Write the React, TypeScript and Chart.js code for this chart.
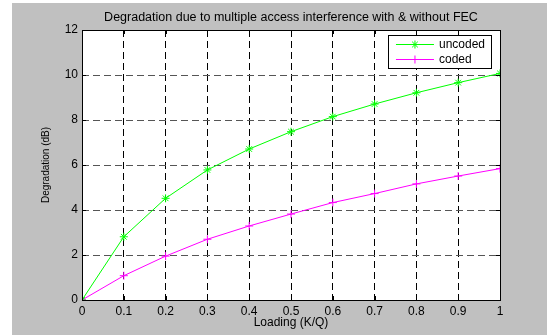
import React, { useEffect, useRef } from 'react';
import { Chart, registerables } from 'chart.js';

Chart.register(...registerables);

const loading = [0, 0.1, 0.2, 0.3, 0.4, 0.5, 0.6, 0.7, 0.8, 0.9, 1];
const uncoded = [0, 2.81, 4.52, 5.78, 6.71, 7.48, 8.15, 8.71, 9.21, 9.66, 10.07];
const coded = [0, 1.08, 1.95, 2.7, 3.29, 3.82, 4.33, 4.73, 5.16, 5.51, 5.84];
const seriesNames = ['uncoded', 'coded'];
const titleText = 'Degradation due to multiple access interference with & without FEC';
const xLabel = 'Loading (K/Q)';
const yLabel = 'Degradation (dB)';

const FONT = "'Liberation Sans', Arial, sans-serif";
const GREEN = '#00ff00';
const MAGENTA = '#ff00ff';
const GRAY = '#c0c0c0';

function drawMarker(ctx: CanvasRenderingContext2D, style: string, x: number, y: number, r: number, color: string) {
  ctx.save();
  ctx.strokeStyle = color;
  ctx.lineWidth = 1;
  ctx.beginPath();
  ctx.moveTo(x - r, y);
  ctx.lineTo(x + r, y);
  ctx.moveTo(x, y - r);
  ctx.lineTo(x, y + r);
  if (style === 'star') {
    const d = r * 0.707;
    ctx.moveTo(x - d, y - d);
    ctx.lineTo(x + d, y + d);
    ctx.moveTo(x - d, y + d);
    ctx.lineTo(x + d, y - d);
  }
  ctx.stroke();
  ctx.restore();
}

const matlabPlugin = {
  id: 'matlabLook',
  beforeDraw(chart: any) {
    const { ctx, chartArea, width, height } = chart;
    ctx.save();
    ctx.fillStyle = '#ffffff';
    ctx.fillRect(0, 0, width, height);
    ctx.fillStyle = GRAY;
    ctx.fillRect(12, 3, width - 12, height - 3);
    ctx.fillStyle = '#ffffff';
    ctx.fillRect(chartArea.left, chartArea.top, chartArea.right - chartArea.left, chartArea.bottom - chartArea.top);
    ctx.restore();
  },
  afterDatasetsDraw(chart: any) {
    const { ctx, chartArea, scales } = chart;
    const { left, right, top, bottom } = chartArea;
    ctx.save();
    ctx.strokeStyle = '#000';
    ctx.lineWidth = 1;
    // inward tick marks
    ctx.beginPath();
    scales.x.ticks.forEach((t: any) => {
      const px = Math.round(scales.x.getPixelForValue(t.value)) + 0.5;
      ctx.moveTo(px, bottom);
      ctx.lineTo(px, bottom - 4);
      ctx.moveTo(px, top);
      ctx.lineTo(px, top + 4);
    });
    scales.y.ticks.forEach((t: any) => {
      const py = Math.round(scales.y.getPixelForValue(t.value)) + 0.5;
      ctx.moveTo(left, py);
      ctx.lineTo(left + 4, py);
      ctx.moveTo(right, py);
      ctx.lineTo(right - 4, py);
    });
    ctx.stroke();
    ctx.strokeRect(Math.round(left) + 0.5, Math.round(top) + 0.5, Math.round(right - left), Math.round(bottom - top));
    ctx.restore();
  },
  afterDraw(chart: any) {
    const { ctx, chartArea } = chart;
    const ds = chart.data.datasets;
    ctx.save();
    ctx.font = `12px ${FONT}`;
    const textW = Math.max(...ds.map((d: any) => ctx.measureText(d.label).width));
    const boxR = chartArea.right - 9;
    const boxT = chartArea.top + 5;
    const boxW = 51 + textW + 6;
    const boxH = 33;
    const boxL = boxR - boxW;
    ctx.fillStyle = '#fff';
    ctx.fillRect(boxL, boxT, boxW, boxH);
    ctx.strokeStyle = '#000';
    ctx.lineWidth = 1;
    ctx.strokeRect(Math.round(boxL) + 0.5, Math.round(boxT) + 0.5, Math.round(boxW), Math.round(boxH));
    ds.forEach((d: any, i: number) => {
      const y = boxT + 9.5 + i * 15;
      ctx.strokeStyle = d.borderColor;
      ctx.beginPath();
      ctx.moveTo(boxL + 8, y);
      ctx.lineTo(boxL + 46, y);
      ctx.stroke();
      drawMarker(ctx, d.pointStyle, boxL + 27, y, 4, d.borderColor);
      ctx.fillStyle = '#000';
      ctx.textBaseline = 'middle';
      ctx.textAlign = 'left';
      ctx.fillText(d.label, boxL + 51, y);
    });
    ctx.restore();
  },
};

export default function App() {
  const ref = useRef<HTMLCanvasElement | null>(null);
  useEffect(() => {
    if (!ref.current) return;
    const chart = new Chart(ref.current, {
      type: 'line',
      data: {
        datasets: [
          {
            label: seriesNames[0],
            data: loading.map((x, i) => ({ x, y: uncoded[i] })),
            borderColor: GREEN,
            backgroundColor: GREEN,
            borderWidth: 1,
            pointStyle: 'star',
            pointRadius: 4,
            pointBorderColor: GREEN,
            pointBorderWidth: 1,
            tension: 0,
            fill: false,
          },
          {
            label: seriesNames[1],
            data: loading.map((x, i) => ({ x, y: coded[i] })),
            borderColor: MAGENTA,
            backgroundColor: MAGENTA,
            borderWidth: 1,
            pointStyle: 'cross',
            pointRadius: 4,
            pointBorderColor: MAGENTA,
            pointBorderWidth: 1,
            tension: 0,
            fill: false,
          },
        ],
      },
      options: {
        animation: false,
        responsive: false,
        layout: { padding: { top: 0, right: 47, bottom: 0, left: 0 } },
        plugins: {
          legend: { display: false },
          tooltip: { enabled: false },
          title: {
            display: true,
            text: titleText,
            fullSize: false,
            color: '#000',
            font: { family: FONT, size: 12.5, weight: 'normal', lineHeight: 1.2 },
            padding: { top: 10, bottom: 5 },
          },
        },
        scales: {
          x: {
            type: 'linear',
            min: 0,
            max: 1,
            afterFit: (s: any) => { s.height = 35; },
            ticks: {
              stepSize: 0.1,
              color: '#000',
              font: { family: FONT, size: 12 },
              padding: 4,
              maxRotation: 0,
              autoSkip: false,
              callback: (v: any) => {
                const n = Math.round(Number(v) * 10) / 10;
                return n === 0 ? '0' : n === 1 ? '1' : n.toFixed(1);
              },
            },
            grid: { color: '#000', lineWidth: 1, drawTicks: false },
            border: { display: false, dash: [7, 4] },
            title: {
              display: true,
              text: xLabel,
              color: '#000',
              font: { family: FONT, size: 12, lineHeight: 1.1 },
              padding: { top: 0, bottom: 6 },
            },
          },
          y: {
            type: 'linear',
            min: 0,
            max: 12,
            afterFit: (s: any) => { s.width = 82; },
            ticks: {
              stepSize: 2,
              color: '#000',
              font: { family: FONT, size: 12 },
              padding: 4,
            },
            grid: { color: '#555', lineWidth: 1, drawTicks: false },
            border: { display: false, dash: [7, 4] },
            title: {
              display: true,
              text: yLabel,
              color: '#000',
              font: { family: FONT, size: 10, lineHeight: 1.2 },
              padding: { top: 40, bottom: 0 },
            },
          },
        },
      },
      plugins: [matlabPlugin],
    });
    return () => chart.destroy();
  }, []);
  return (
    <div style={{ position: 'absolute', left: 0, top: 0, width: 547, height: 335 }}>
      <canvas ref={ref} width={547} height={335} style={{ width: 547, height: 335, display: 'block' }} />
    </div>
  );
}
